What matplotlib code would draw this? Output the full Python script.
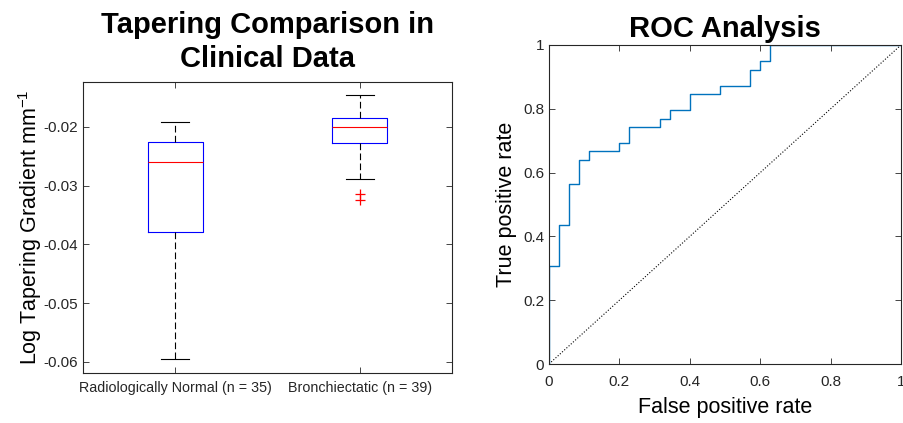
import matplotlib
matplotlib.use("Agg")
import matplotlib.pyplot as plt
import numpy as np

plt.rcParams["font.family"] = ["Liberation Sans", "DejaVu Sans"]
plt.rcParams["axes.unicode_minus"] = False
plt.rcParams["mathtext.default"] = "regular"

# Box plot summary statistics of the log tapering gradient per group
groups = ["Radiologically Normal (n = 35)", "Bronchiectatic (n = 39)"]
medians = [-0.0260, -0.0200]
q1s = [-0.0379, -0.0227]
q3s = [-0.0226, -0.0185]
whisk_lo = [-0.0595, -0.0288]
whisk_hi = [-0.0191, -0.0146]
outliers = [[], [-0.0315, -0.0325]]

# ROC curve vertices: false positives out of 35, true positives out of 39
n_neg = 35
n_pos = 39
fp_counts = [0, 0, 1, 1, 2, 2, 3, 3, 4, 4, 7, 7, 8, 8, 11, 11, 12, 12,
             14, 14, 17, 17, 20, 20, 21, 21, 22, 22, 35]
tp_counts = [0, 12, 12, 17, 17, 22, 22, 25, 25, 26, 26, 27, 27, 29, 29, 30, 30, 31,
             31, 33, 33, 34, 34, 36, 36, 37, 37, 39, 39]

fig = plt.figure(figsize=(9.04, 4.23), dpi=100)
ax1 = fig.add_axes([83 / 904, 50 / 423, 369 / 904, 291 / 423])
ax2 = fig.add_axes([549 / 904, 59 / 423, 352 / 904, 319 / 423])

edge = "#262626"
for ax in (ax1, ax2):
    for s in ax.spines.values():
        s.set_color(edge)
        s.set_linewidth(0.8)
    ax.tick_params(direction="in", length=4, width=0.6, colors=edge,
                   top=True, right=True, labelsize=11, labelcolor="#262626")

# --- box plot ---
stats = []
for i in range(len(groups)):
    stats.append({
        "med": medians[i], "q1": q1s[i], "q3": q3s[i],
        "whislo": whisk_lo[i], "whishi": whisk_hi[i],
        "fliers": outliers[i], "label": groups[i],
    })
ax1.bxp(stats, positions=[1, 2], widths=0.3,
        boxprops=dict(color="blue", linewidth=0.8),
        medianprops=dict(color="red", linewidth=0.8),
        whiskerprops=dict(color="black", linewidth=0.8, linestyle=(0, (6, 3))),
        capprops=dict(color="black", linewidth=0.8),
        flierprops=dict(marker="+", markeredgecolor="red", markersize=7,
                        markeredgewidth=0.9, linestyle="none"))
ax1.set_xlim(0.5, 2.5)
ax1.set_ylim(-0.0619, -0.01236)
ax1.set_yticks([-0.06, -0.05, -0.04, -0.03, -0.02])
ax1.set_yticklabels(["-0.06", "-0.05", "-0.04", "-0.03", "-0.02"])
ax1.tick_params(axis="x", labelsize=10.3, pad=6)
ax1.set_ylabel("Log Tapering Gradient mm$^{-1}$", fontsize=15.5, labelpad=0)
ax1.set_title("Tapering Comparison in\nClinical Data", fontsize=21,
              fontweight="bold", pad=11, linespacing=1.25)

# --- ROC curve ---
fpr = np.array(fp_counts) / n_neg
tpr = np.array(tp_counts) / n_pos
ax2.plot([0, 1], [0, 1], color="black", linestyle=":", linewidth=0.8)
ax2.plot(fpr, tpr, color=(0, 0.447, 0.741), linewidth=1.0)
ax2.set_xlim(0, 1)
ax2.set_ylim(0, 1)
ticks = [0, 0.2, 0.4, 0.6, 0.8, 1]
ax2.set_xticks(ticks)
ax2.set_xticklabels(["0", "0.2", "0.4", "0.6", "0.8", "1"])
ax2.set_yticks(ticks)
ax2.set_yticklabels(["0", "0.2", "0.4", "0.6", "0.8", "1"])
ax2.tick_params(axis="x", pad=8)
ax2.set_xlabel("False positive rate", fontsize=15.5, labelpad=6)
ax2.set_ylabel("True positive rate", fontsize=15.5, labelpad=4)
ax2.set_title("ROC Analysis", fontsize=21, fontweight="bold", pad=6)

fig.savefig("out.png", dpi=100)
